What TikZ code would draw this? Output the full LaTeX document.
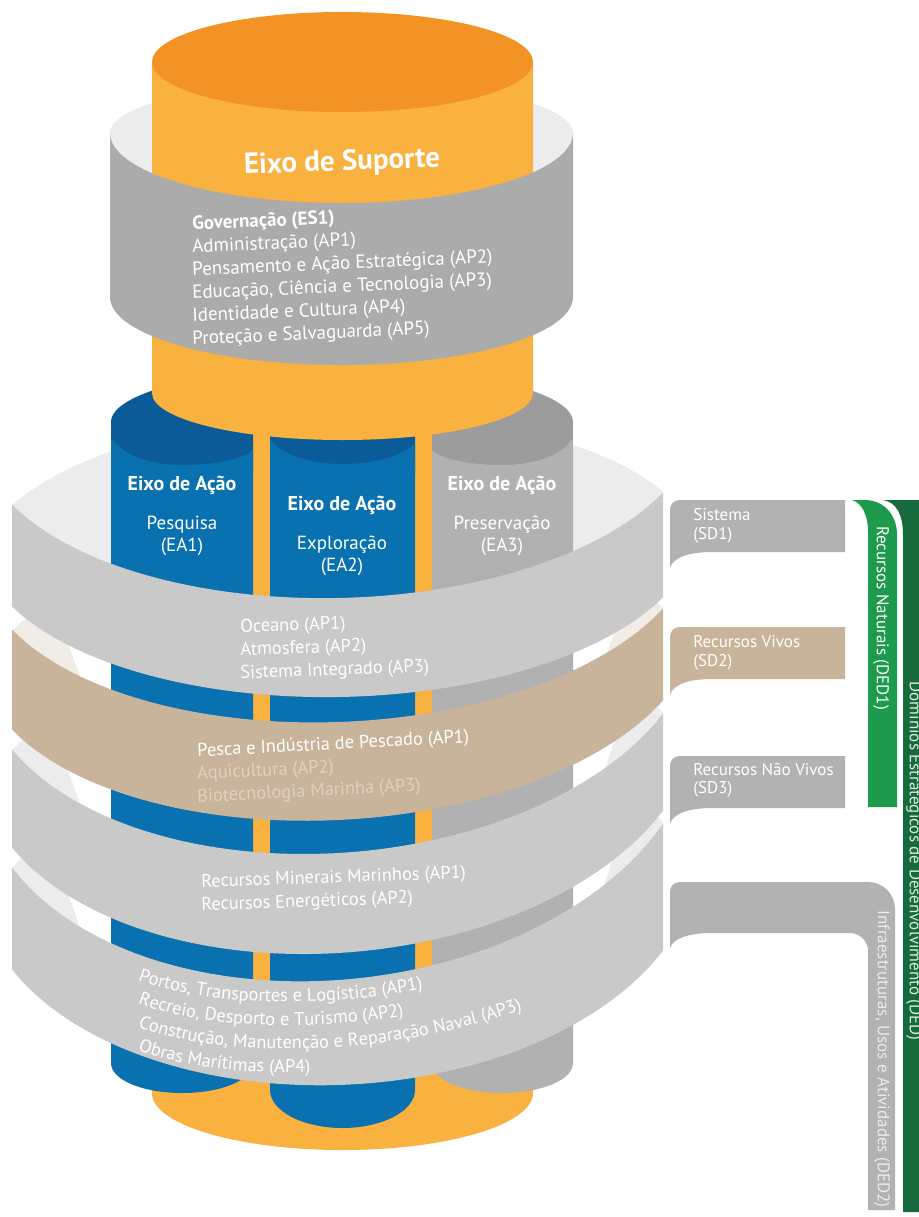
\documentclass[tikz,border=0pt]{standalone}
\usepackage{fontspec}
\setmainfont{PT Sans}
\usetikzlibrary{decorations.text}
\definecolor{orTop}{HTML}{F39325}
\definecolor{orBody}{HTML}{F9B13F}
\definecolor{blBody}{HTML}{0A71B1}
\definecolor{blTop}{HTML}{0B5B99}
\definecolor{grCol}{HTML}{B1B1B1}
\definecolor{grColTop}{HTML}{9C9C9C}
\definecolor{esBand}{HTML}{ABABAB}
\definecolor{ringGray}{HTML}{C9C9C9}
\definecolor{ringTan}{HTML}{C8B49B}
\definecolor{backGray}{HTML}{ECECEC}
\definecolor{backTan}{HTML}{F1ECE5}
\definecolor{tanText}{HTML}{DFD2C0}
\definecolor{callGray}{HTML}{B2B2B2}
\definecolor{callTan}{HTML}{C8B49A}
\definecolor{greenL}{HTML}{1D9A4B}
\definecolor{greenD}{HTML}{176A3B}
\definecolor{dedTxt}{HTML}{DCEBDF}
\definecolor{dedTwoTxt}{HTML}{ECECEC}
\newcommand\ringfront[7]{%
 \pgfmathsetmacro\tT{(#4-#2)/651}%
 \pgfmathsetmacro\tB{(#6-(#2+#4)/2)/0.573}%
 \pgfmathsetmacro\tA{#6-\tB}%
 \pgfmathsetmacro\bT{(#5-#3)/651}%
 \pgfmathsetmacro\bB{(#7-(#3+#5)/2)/0.573}%
 \pgfmathsetmacro\bA{#7-\bB}%
 \fill[#1] plot[domain=12:663,samples=80] (\x,{\tA+\tB*sqrt(1-((\x-338)/360)^2)+\tT*(\x-338)})
   -- plot[domain=663:12,samples=80] (\x,{\bA+\bB*sqrt(1-((\x-338)/360)^2)+\bT*(\x-338)}) -- cycle;}
\newcommand\ringback[4]{%
 \pgfmathsetmacro\tT{(#3-#2)/651}%
 \pgfmathsetmacro\tB{(#4-(#2+#3)/2)/0.573}%
 \pgfmathsetmacro\tA{#4-\tB}%
 \pgfmathsetmacro\uM{(#2+#3)/2}%
 \pgfmathsetmacro\uD{0.85*(#4-\uM)/0.573}%
 \fill[#1] plot[domain=12:663,samples=80] (\x,{\tA+\tB*sqrt(1-((\x-338)/360)^2)+\tT*(\x-338)})
   -- plot[domain=663:12,samples=80] (\x,{\uM+0.427*\uD-\uD*sqrt(1-((\x-338)/360)^2)+\tT*(\x-338)}) -- cycle;}
\newcommand\callout[2]{%
 \fill[#1] (670,{#2+68}) -- (670,{#2+10}) .. controls (670,{#2+4}) and (674,#2) .. (680,#2) -- (845,#2) -- (845,{#2+52}) -- (712,{#2+52}) .. controls (690,{#2+52}) and (673,{#2+57}) .. (670,{#2+68}) -- cycle;}
\newcommand\ringfnt{\fontsize{9.2}{11}\selectfont\color{white}}
\tikzset{
 whitetxt/.style={text=white, inner sep=0pt},
 coltitle/.style={whitetxt, font=\fontsize{10}{12}\selectfont\bfseries},
 colsub/.style={whitetxt, font=\fontsize{9.5}{11}\selectfont},
 estxt/.style={whitetxt, font=\fontsize{9.5}{11}\selectfont, anchor=west, rotate=2.5},
 ringtxt/.style={whitetxt, font=\fontsize{9.2}{11}\selectfont, anchor=west},
 sdtxt/.style={whitetxt, font=\fontsize{8.5}{10}\selectfont, anchor=west},
 vtxt/.style={inner sep=0pt, font=\fontsize{8.5}{10}\selectfont, rotate=-90},
 curvetxt/.style={decorate, decoration={text along path, text align=left, text={|\ringfnt|#1}}},
 hilite/.style={fill=white}
}
\begin{document}
\begin{tikzpicture}[x=0.5pt,y=-0.5pt]
\useasboundingbox (0,0) rectangle (919,1217);
\fill[white] (0,0) rectangle (919,1217);
% ring backs
\ringback{backGray}{505}{492}{598}
\ringback{backTan}{630}{608}{722}
\ringback{backGray}{750}{713}{853}
\ringback{backGray}{868}{823}{980}
% white highlights on the inner back walls
\fill[hilite] (111,615) -- (58,615) -- (90,705) -- (111,705) -- cycle;
\fill[hilite] (111,742) -- (58,742) -- (90,832) -- (111,832) -- cycle;
\fill[hilite] (111,862) -- (58,862) -- (90,958) -- (111,958) -- cycle;
\fill[hilite] (573,612) -- (622,612) -- (594,688) -- (573,688) -- cycle;
\fill[hilite] (573,718) -- (622,718) -- (594,802) -- (573,802) -- cycle;
\fill[hilite] (573,828) -- (622,828) -- (594,918) -- (573,918) -- cycle;
% orange lower body
\fill[orBody] (152,393) -- (152,1093) .. controls (152,1124.5) and (237.3,1150) .. (342.5,1150) .. controls (447.7,1150) and (533,1124.5) .. (533,1093) -- (533,393) -- cycle;
% column EA1
\begin{scope}
 \clip (111,300) rectangle (253,1200);
 \fill[blTop] (342,422) ellipse [x radius=115.5pt, y radius=27.5pt];
 \fill[blTop] (111,422) rectangle (253,470);
\end{scope}
\fill[blBody] (111,438) .. controls (125,458) and (155,465) .. (182,465) .. controls (212,465) and (243,460) .. (253,450) -- (253,1063) .. controls (253,1080) and (221,1093) .. (182,1093) .. controls (143,1093) and (111,1080) .. (111,1063) -- cycle;
% column EA2
\begin{scope}
 \clip (270,300) rectangle (415,1200);
 \fill[blTop] (342,422) ellipse [x radius=115.5pt, y radius=27.5pt];
 \fill[blTop] (270,422) rectangle (415,470);
\end{scope}
\fill[blBody] (270,440) .. controls (285,457) and (315,464) .. (342,464) .. controls (370,464) and (400,458) .. (415,443) -- (415,1090) .. controls (415,1111) and (382,1128) .. (342.5,1128) .. controls (303,1128) and (270,1111) .. (270,1090) -- cycle;
% column EA3
\begin{scope}
 \clip (432,300) rectangle (573,1200);
 \fill[grColTop] (342,422) ellipse [x radius=115.5pt, y radius=27.5pt];
 \fill[grColTop] (432,422) rectangle (573,470);
\end{scope}
\fill[grCol] (432,450) .. controls (442,460) and (472,465) .. (502,465) .. controls (530,465) and (560,458) .. (573,438) -- (573,1063) .. controls (573,1080) and (541,1093) .. (502,1093) .. controls (463,1093) and (432,1080) .. (432,1063) -- cycle;
% column texts
\node[coltitle] (ea1t) at (182,485) {Eixo de Ação};
\node[colsub] (ea1a) at (182,525) {Pesquisa};
\node[colsub] (ea1b) at (182,547) {(EA1)};
\node[coltitle] (ea2t) at (342,505) {Eixo de Ação};
\node[colsub] (ea2a) at (342,545) {Exploração};
\node[colsub] (ea2b) at (342,567) {(EA2)};
\node[coltitle] (ea3t) at (502,485) {Eixo de Ação};
\node[colsub] (ea3a) at (502,525) {Preservação};
\node[colsub] (ea3b) at (502,547) {(EA3)};
% ES ring back
\fill[backGray] (110,133) .. controls (110,104.3) and (213.7,81) .. (341.5,81) .. controls (469.3,81) and (573,104.3) .. (573,133) .. controls (573,171.6) and (469.3,203) .. (341.5,203) .. controls (213.7,203) and (110,171.6) .. (110,133) -- cycle;
% upper orange cylinder
\fill[orBody] (152,62) -- (152,393) .. controls (152,419) and (237.3,440) .. (342.5,440) .. controls (447.7,440) and (533,419) .. (533,393) -- (533,62) -- cycle;
\fill[orTop] (342.5,62) ellipse [x radius=95.25pt, y radius=25pt];
% ES front band
\fill[esBand] (110,133) -- (110,297) .. controls (110,334.5) and (213.7,365) .. (341.5,365) .. controls (469.3,365) and (573,334.5) .. (573,297) -- (573,133) .. controls (573,171.6) and (469.3,203) .. (341.5,203) .. controls (213.7,203) and (110,171.6) .. (110,133) -- cycle;
\node[whitetxt, font=\fontsize{14.5}{16}\selectfont\bfseries, rotate=2] (es) at (342,163) {Eixo de Suporte};
\node[estxt, font=\fontsize{9.5}{11}\selectfont\bfseries] (es1) at (192,225) {Governação (ES1)};
\node[estxt] (es2) at (192,248) {Administração (AP1)};
\node[estxt] (es3) at (192,271) {Pensamento e Ação Estratégica (AP2)};
\node[estxt] (es4) at (192,294) {Educação, Ciência e Tecnologia (AP3)};
\node[estxt] (es5) at (192,317) {Identidade e Cultura (AP4)};
\node[estxt] (es6) at (192,340) {Proteção e Salvaguarda (AP5)};
% ring fronts
\ringfront{ringGray}{868}{970}{823}{950}{980}{1085}
\ringfront{ringGray}{750}{848}{713}{810}{853}{953}
\ringfront{ringTan}{630}{730}{608}{700}{722}{820}
\ringfront{ringGray}{505}{607}{492}{597}{598}{697}
% ring texts
\node[ringtxt, rotate=2] (r1a) at (240,628) {Oceano (AP1)};
\node[ringtxt, rotate=2] (r1b) at (240,651) {Atmosfera (AP2)};
\node[ringtxt, rotate=2] (r1c) at (240,674) {Sistema Integrado (AP3)};
\node[ringtxt, rotate=3] (r2a) at (197,752) {Pesca e Indústria de Pescado (AP1)};
\node[ringtxt, rotate=3, text=tanText] (r2b) at (197,775) {Aquicultura (AP2)};
\node[ringtxt, rotate=3, text=tanText] (r2c) at (197,798) {Biotecnologia Marinha (AP3)};
\node[ringtxt, rotate=2] (r3a) at (201,883) {Recursos Minerais Marinhos (AP1)};
\node[ringtxt, rotate=2] (r3b) at (201,906) {Recursos Energéticos (AP2)};
\path[curvetxt={Portos, Transportes e Logística (AP1)}] (138,980) .. controls (225,1012) and (385,1012) .. (530,960);
\path[curvetxt={Recreio, Desporto e Turismo (AP2)}] (138,1003.5) .. controls (225,1035.5) and (385,1035.5) .. (530,983.5);
\path[curvetxt={Construção, Manutenção e Reparação Naval (AP3)}] (138,1027) .. controls (225,1059) and (385,1059) .. (530,1007);
\path[curvetxt={Obras Marítimas (AP4)}] (138,1050.5) .. controls (225,1082.5) and (385,1082.5) .. (530,1030.5);
% callouts
\callout{callGray}{500}
\callout{callTan}{627}
\callout{callGray}{756}
\fill[callGray] (670,948) -- (670,892) .. controls (670,886) and (674,882) .. (680,882) -- (868,882) .. controls (883,882) and (895,894) .. (895,909) -- (895,1210) -- (868,1210) -- (868,951) .. controls (868,941) and (860,933) .. (850,933) -- (712,933) .. controls (690,933) and (673,938) .. (670,948) -- cycle;
\node[sdtxt] (sd1a) at (693,515) {Sistema};
\node[sdtxt] (sd1b) at (693,535) {(SD1)};
\node[sdtxt] (sd2a) at (693,642) {Recursos Vivos};
\node[sdtxt] (sd2b) at (693,662) {(SD2)};
\node[sdtxt] (sd3a) at (693,770) {Recursos Não Vivos};
\node[sdtxt] (sd3b) at (693,789) {(SD3)};
% green bars
\fill[greenL] (852,500) -- (865,500) .. controls (883,500) and (897,514) .. (897,535) -- (897,807) -- (868,807) -- (868,532) .. controls (868,515) and (862,503) .. (852,500) -- cycle;
\fill[greenD] (883,500) -- (930,500) -- (930,1212) -- (903,1212) -- (903,535) .. controls (903,514) and (896,502) .. (883,500) -- cycle;
\node[vtxt, text=white] (ded1) at (881,618) {Recursos Naturais (DED1)};
\node[vtxt, text=dedTxt] (ded) at (914,861) {Domínios Estratégicos de Desenvolvimento (DED)};
\node[vtxt, text=dedTwoTxt] (ded2) at (882,1059) {Infraestruturas, Usos e Atividades (DED2)};
\end{tikzpicture}
\end{document}
